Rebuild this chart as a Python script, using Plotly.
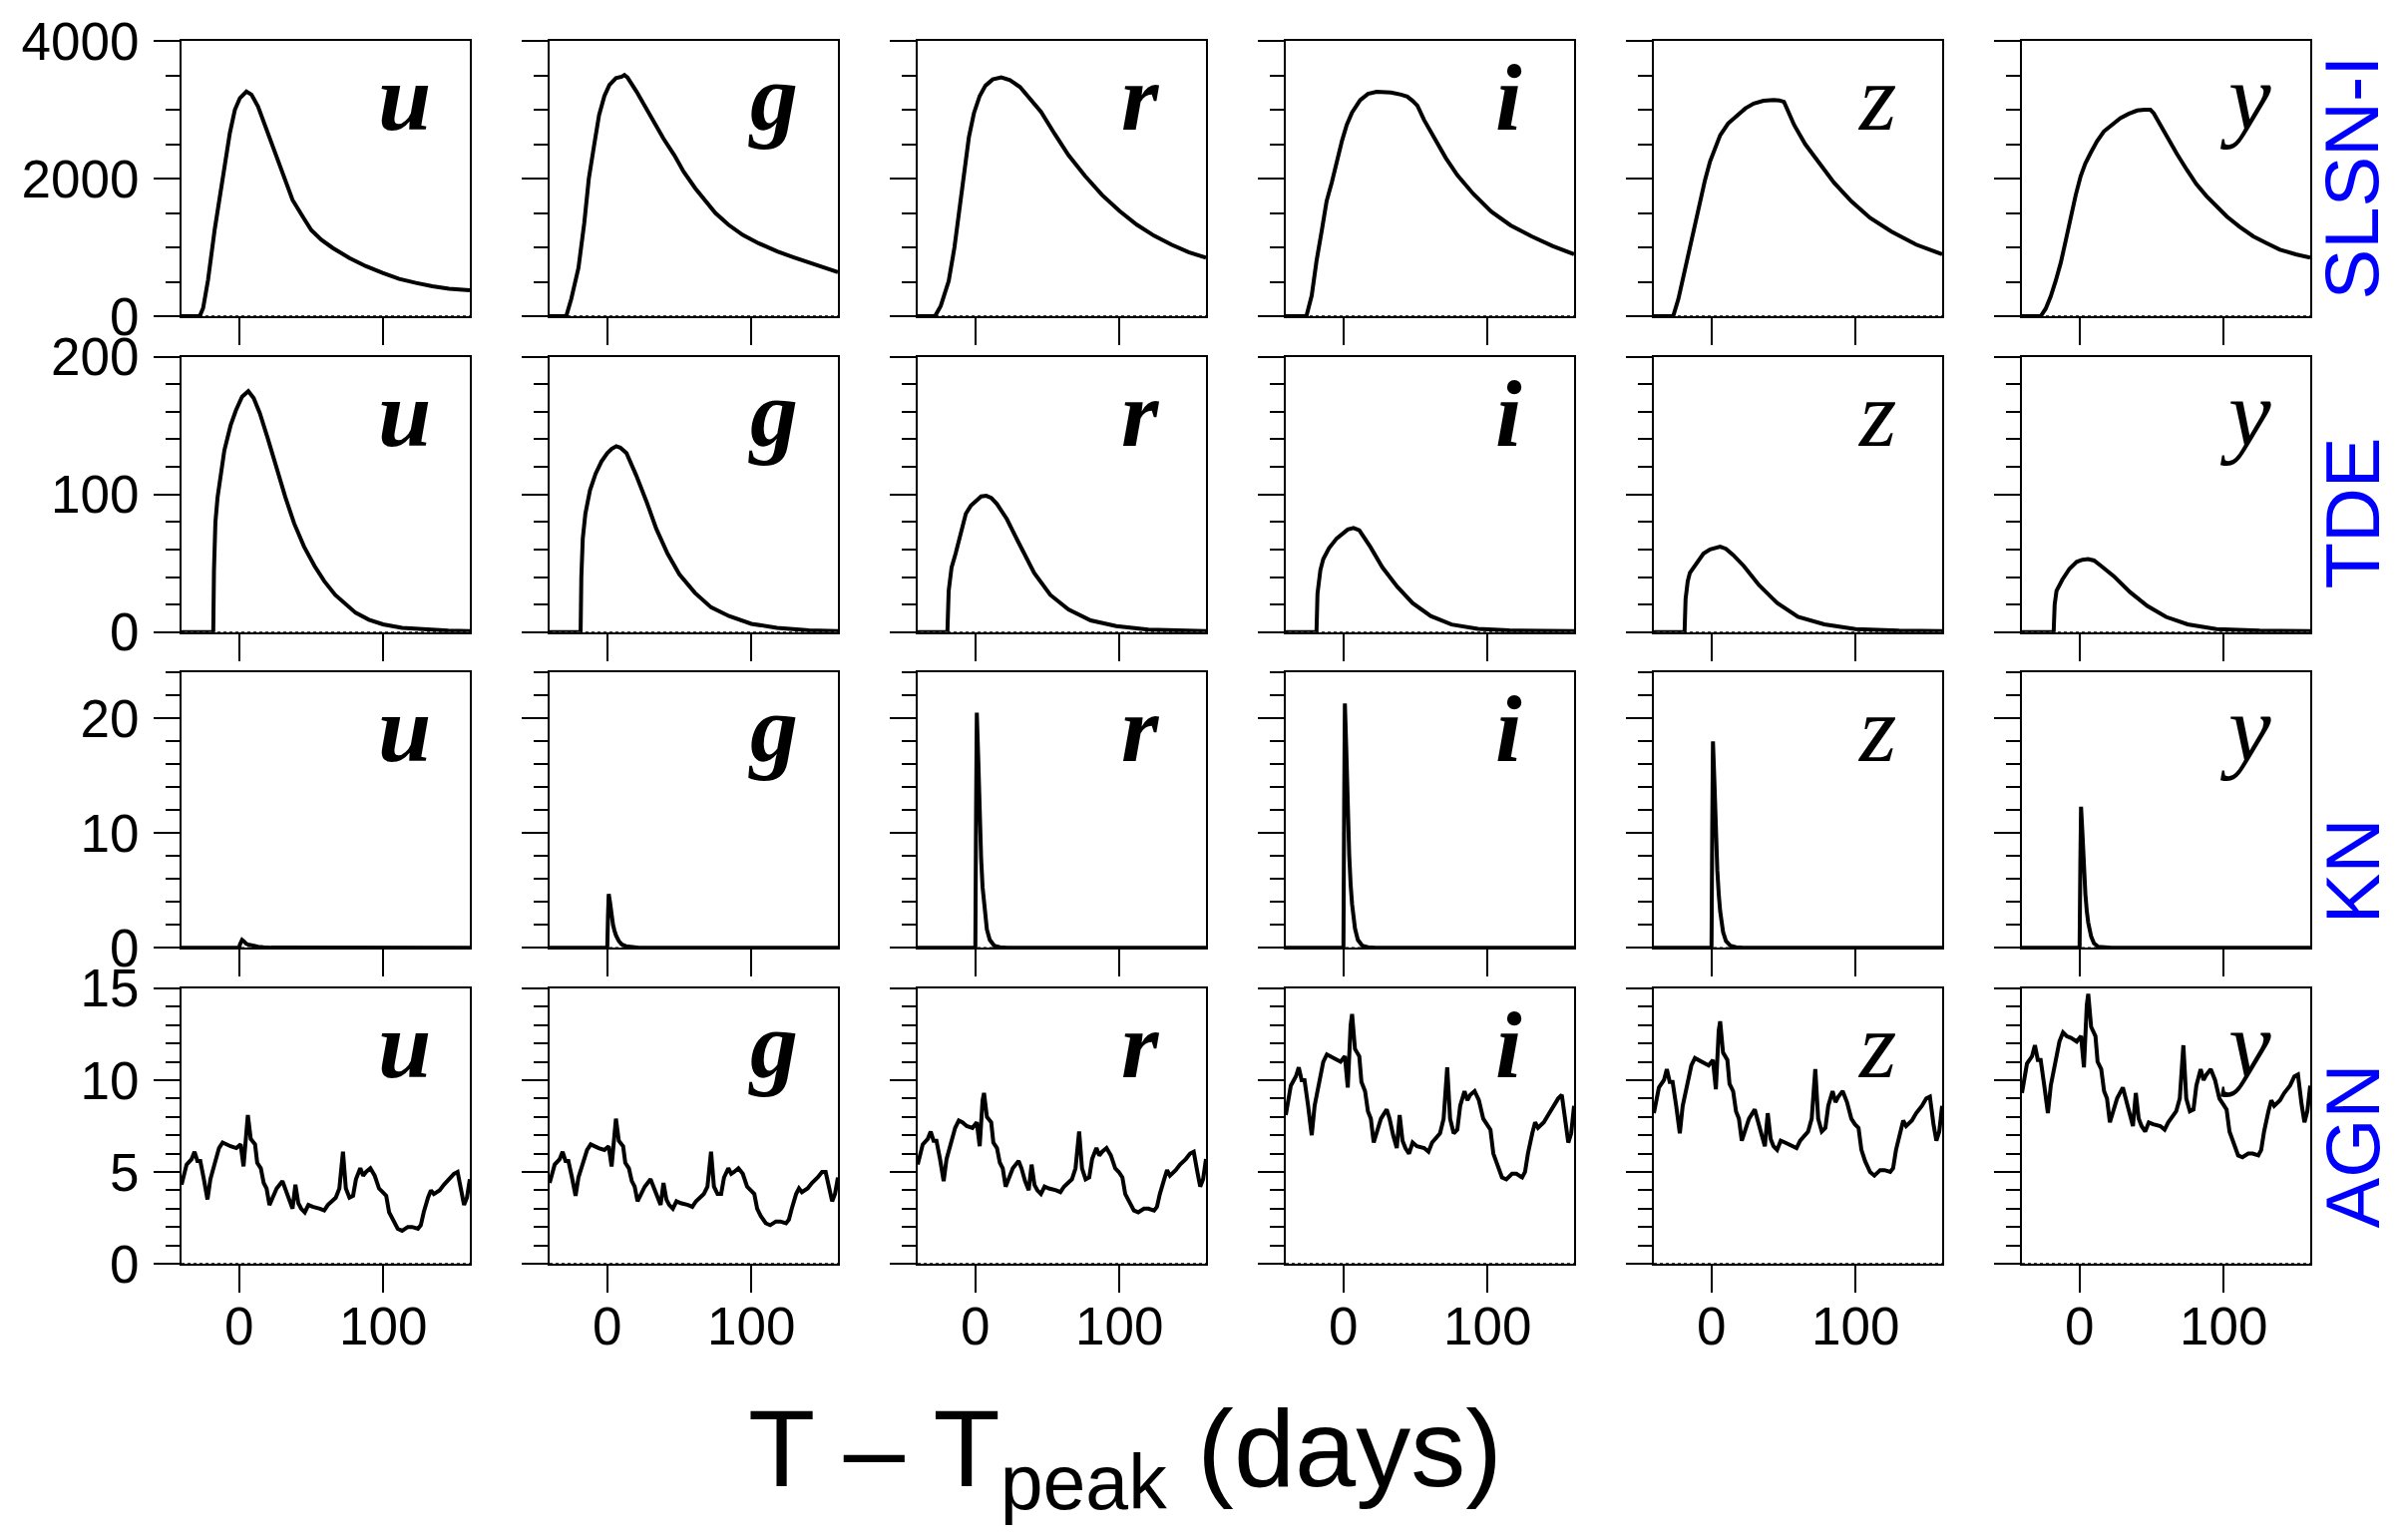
import plotly.graph_objects as go
from plotly.subplots import make_subplots

BANDS = ["u", "g", "r", "i", "z", "y"]
ROW_NAMES = ["SLSN-I", "TDE", "KN", "AGN"]

# ---- SLSN-I light curves (days, flux) ----
SLSN_T = {
    "u": [-40, -27.4, -25, -21.6, -17, -11.5, -6.5, -3, 0.5, 5, 8.5, 13, 19, 24.7, 30.4, 37, 44, 50,
          57, 65, 76.5, 88, 99.5, 111, 122.6, 134, 145.6, 160],
    "g": [-40, -28.5, -25, -20, -16, -12.8, -9, -5.7, -2, 1.5, 6, 10, 11.9, 14, 20.4, 26, 32, 39, 46.5,
          53, 61, 68, 75, 84, 94, 105, 118, 130, 141.5, 150, 160],
    "r": [-40, -28, -24, -18.5, -14.5, -11.4, -8, -4.5, -1, 3, 7, 12, 18, 24, 31, 38, 45.6, 55, 64.6,
          76, 88, 100, 112, 124, 136, 148, 160],
    "i": [-40, -25.7, -22, -18.7, -15, -11.7, -8, -4.7, -1, 2.3, 6, 11.6, 17, 23, 33, 40, 44.3, 48,
          51.3, 56, 63, 71, 79, 90, 102.6, 116, 130.6, 145, 160],
    "z": [-40, -26.6, -23, -17.3, -12.5, -8, -4.5, -1, 2.5, 6, 11.5, 17.7, 23.5, 29.3, 36, 43.3, 47,
          50.3, 53.5, 57.3, 65, 73.6, 85, 97, 110, 124.9, 142, 160],
    "y": [-40, -27, -23.5, -20, -16.5, -13.1, -9.6, -6.2, -2.7, 0.7, 4, 7.6, 12, 16.8, 22.5, 28.3, 34,
          39.9, 45, 49.1, 51.4, 56, 60.6, 67.5, 74.4, 81, 88.2, 95, 102.1, 111, 120.5, 130, 139, 150, 160],
}
SLSN_F = {
    "u": [0, 0, 120, 530, 1260, 2000, 2660, 3000, 3170, 3265, 3220, 3050, 2710, 2370, 2030, 1690, 1450,
          1250, 1110, 990, 846, 726, 629, 542, 484, 435, 401, 377],
    "g": [0, 0, 250, 700, 1350, 2000, 2500, 2920, 3200, 3360, 3460, 3480, 3505, 3470, 3260, 3050, 2830,
          2580, 2340, 2100, 1860, 1670, 1500, 1330, 1180, 1060, 940, 850, 770, 710, 640],
    "r": [0, 0, 150, 510, 1000, 1520, 2100, 2600, 2950, 3200, 3350, 3440, 3470, 3430, 3330, 3160, 2970,
          2650, 2340, 2040, 1760, 1530, 1330, 1170, 1040, 930, 850],
    "i": [0, 0, 300, 800, 1250, 1670, 1950, 2250, 2550, 2780, 2960, 3140, 3230, 3260, 3250, 3220, 3190,
          3130, 3060, 2850, 2580, 2300, 2050, 1780, 1520, 1320, 1160, 1020, 900],
    "z": [0, 0, 250, 800, 1250, 1670, 1980, 2250, 2460, 2630, 2800, 2920, 3020, 3090, 3130, 3140, 3135,
          3115, 2960, 2780, 2500, 2250, 1940, 1670, 1430, 1230, 1040, 900],
    "y": [0, 0, 110, 290, 520, 774, 1100, 1451, 1760, 2032, 2220, 2370, 2540, 2685, 2790, 2878, 2940,
          2989, 3000, 3000, 2951, 2780, 2612, 2360, 2128, 1920, 1741, 1590, 1451, 1300, 1161, 1060, 967,
          900, 850],
}

# ---- TDE light curves ----
TDE_T = {
    "u": [-40, -18, -17.5, -16.5, -15, -14, -12, -10.3, -6, -2.3, 2, 6.3, 10, 14.3, 20, 26.2, 32, 38.1,
          45, 52.3, 59, 66.6, 74, 80.8, 90, 99.8, 113, 128, 145, 160],
    "g": [-40, -18.5, -18, -17, -15.2, -12, -8.1, -4, 0, 3, 6.2, 9, 13.3, 20, 27.5, 34, 41.8, 50, 60.8,
          72, 84.5, 100, 117.7, 140, 160],
    "r": [-40, -19.4, -18.5, -16.5, -13.7, -10, -6.6, -3, 1, 4, 7.6, 11, 15, 21.9, 30, 40.8, 52, 64.6,
          80, 97.8, 120, 140, 160],
    "i": [-40, -18.7, -18, -16, -14, -10, -4.7, 0, 3, 7, 11, 18.6, 27, 37.3, 48, 60.6, 75, 93.3, 115,
          140, 160],
    "z": [-40, -18.7, -18, -16.5, -15, -10, -5.6, -1, 3, 6, 10, 15, 22.4, 33, 45.7, 60, 78.3, 100, 130,
          160],
    "y": [-40, -18, -17.3, -16, -12, -7, -2, 2, 6, 10, 15, 23.7, 35, 47, 60, 75, 95, 125, 160],
}
TDE_F = {
    "u": [0, 0, 45, 80, 98, 106, 122, 132, 150, 161, 171, 175, 170, 159, 140, 118, 98, 79, 62, 48, 37,
          27, 20, 14, 9, 5.6, 3, 1.9, 1.1, 0.7],
    "g": [0, 0, 40, 68, 86, 103, 115, 124, 130, 133, 135, 134, 130, 114, 94, 75, 57, 42, 28.5, 18, 11.6,
          6, 3.1, 1.3, 0.7],
    "r": [0, 0, 30, 47, 57, 73, 86, 92, 96, 98.5, 99, 97.5, 93, 82, 65, 43, 27, 16.4, 8.5, 4.3, 1.8,
          1.0, 0.7],
    "i": [0, 0, 28, 45, 53, 61, 68, 72, 74.5, 75.6, 74, 62, 47, 33, 21, 11.6, 5.5, 2.4, 1.2, 0.8, 0.7],
    "z": [0, 0, 24, 37, 43, 51, 57, 60, 61.5, 62, 60.5, 56, 48, 34, 21, 11, 5.6, 2.2, 1.0, 0.7],
    "y": [0, 0, 20, 30, 38, 46, 51, 52.5, 53, 52, 48, 40.6, 29, 19, 11, 5.6, 2.2, 1.0, 0.7],
}

# ---- KN light curves ----
KN_T = [-40, -0.5, 0, 0.5, 1, 2, 3, 4, 5, 6, 8, 10, 13, 17, 22, 160]
KN_F = {
    "u": [0, 0, 0, 0.3, 0.5, 0.7, 0.6, 0.45, 0.35, 0.3, 0.22, 0.15, 0.1, 0.05, 0.02, 0],
    "g": [0, 0, 0, 2.8, 4.7, 3.9, 2.8, 2.0, 1.5, 1.1, 0.6, 0.3, 0.15, 0.05, 0, 0],
    "r": [0, 0, 0, 12, 20.5, 16.5, 11.3, 7.8, 5.3, 3.7, 1.6, 0.7, 0.2, 0.05, 0, 0],
    "i": [0, 0, 0, 12.5, 21.3, 17.2, 11.8, 8.1, 5.5, 3.8, 1.7, 0.7, 0.2, 0.05, 0, 0],
    "z": [0, 0, 0, 10.5, 18.0, 14.5, 9.9, 6.8, 4.7, 3.2, 1.4, 0.6, 0.2, 0.05, 0, 0],
    "y": [0, 0, 0, 7.2, 12.3, 9.9, 6.8, 4.7, 3.2, 2.2, 1.0, 0.4, 0.1, 0.03, 0, 0],
}

# ---- AGN light curves ----
AGN_T = [-40, -36.5, -33, -31, -29, -27, -24.5, -22, -20, -17, -14, -11.5, -9, -6, -2, 1, 3, 5, 6, 8,
         11, 12.5, 15, 17, 19, 21, 23.5, 26, 30, 32, 34.5, 37, 39, 41, 43, 45.5, 48, 51, 56, 59,
         61.5, 64.5, 67, 69.5, 72, 74, 76.5, 79, 81, 84, 86, 88, 91, 94, 97, 99.5, 102, 104, 106.5, 110,
         113, 117, 120, 124, 126, 128, 131, 133, 135, 139, 142, 146, 149, 151.5, 154, 156, 158, 160]
AGN_F = {
    "u": [4.3, 5.4, 5.7, 6.1, 5.6, 5.6, 4.6, 3.5, 4.6, 5.5, 6.3, 6.6, 6.5, 6.4, 6.3, 6.5, 5.3, 7.7, 8.1, 6.8,
          6.5, 5.5, 5.2, 4.4, 4.1, 3.2, 3.7, 4.1, 4.5, 4.1, 3.5, 3.0, 4.3, 3.3, 3.0, 2.8, 3.2, 3.1, 3.0, 2.9,
          3.2, 3.4, 3.6, 4.1, 6.1, 4.1, 3.6, 3.7, 4.6, 5.2, 4.8, 5.0, 5.2, 4.8, 4.1, 3.9, 3.7, 2.8, 2.4, 1.9,
          1.8, 2.0, 2.0, 1.9, 2.1, 2.8, 3.6, 4.0, 3.8, 4.0, 4.3, 4.6, 4.9, 5.0, 3.9, 3.2, 3.6, 4.6],
    "g": [4.4, 5.4, 5.7, 6.1, 5.6, 5.6, 4.7, 3.7, 4.7, 5.5, 6.2, 6.5, 6.4, 6.3, 6.2, 6.4, 5.3, 7.5, 7.9, 6.7,
          6.4, 5.5, 5.2, 4.5, 4.2, 3.4, 3.8, 4.2, 4.6, 4.2, 3.7, 3.2, 4.4, 3.5, 3.2, 3.0, 3.4, 3.3, 3.2, 3.1,
          3.4, 3.6, 3.8, 4.2, 6.1, 4.2, 3.8, 3.8, 4.7, 5.2, 4.9, 5.0, 5.2, 4.9, 4.2, 4.0, 3.8, 3.0, 2.6, 2.2,
          2.1, 2.3, 2.3, 2.2, 2.4, 3.0, 3.8, 4.1, 3.9, 4.1, 4.4, 4.7, 5.0, 5.0, 4.0, 3.4, 3.8, 4.7],
    "r": [5.4, 6.5, 6.8, 7.2, 6.7, 6.7, 5.7, 4.5, 5.7, 6.6, 7.4, 7.8, 7.7, 7.5, 7.4, 7.7, 6.4, 8.9, 9.3, 8.0,
          7.7, 6.6, 6.3, 5.5, 5.2, 4.2, 4.7, 5.2, 5.6, 5.2, 4.5, 4.0, 5.4, 4.3, 4.0, 3.8, 4.2, 4.1, 4.0, 3.9,
          4.2, 4.4, 4.6, 5.2, 7.2, 5.2, 4.6, 4.7, 5.7, 6.3, 5.9, 6.1, 6.3, 5.9, 5.2, 5.0, 4.7, 3.8, 3.4, 2.9,
          2.8, 3.0, 3.0, 2.9, 3.1, 3.8, 4.6, 5.1, 4.8, 5.1, 5.4, 5.7, 6.0, 6.1, 5.0, 4.2, 4.6, 5.7],
    "i": [8.1, 9.7, 10.2, 10.7, 10.0, 10.0, 8.6, 7.0, 8.6, 9.9, 11.0, 11.4, 11.3, 11.2, 11.0, 11.3, 9.6,
          13.0, 13.6, 11.7, 11.3, 9.9, 9.4, 8.3, 7.9, 6.6, 7.3, 7.9, 8.4, 7.9, 7.0, 6.3, 8.1, 6.7, 6.3, 6.0,
          6.6, 6.4, 6.3, 6.1, 6.6, 6.9, 7.1, 7.9, 10.7, 7.9, 7.1, 7.3, 8.6, 9.4, 8.9, 9.2, 9.4, 8.9, 7.9,
          7.6, 7.3, 6.0, 5.4, 4.7, 4.6, 4.9, 4.9, 4.7, 5.0, 6.0, 7.1, 7.7, 7.4, 7.7, 8.1, 8.6, 9.0, 9.2, 7.6,
          6.6, 7.1, 8.6],
    "z": [8.2, 9.6, 10.0, 10.6, 9.9, 9.9, 8.6, 7.1, 8.6, 9.8, 10.8, 11.2, 11.1, 11.0, 10.8, 11.1, 9.5,
          12.7, 13.2, 11.5, 11.1, 9.8, 9.4, 8.3, 7.9, 6.7, 7.4, 7.9, 8.4, 7.9, 7.1, 6.4, 8.2, 6.8, 6.4, 6.2,
          6.7, 6.6, 6.4, 6.3, 6.7, 7.0, 7.2, 7.9, 10.6, 7.9, 7.2, 7.4, 8.6, 9.4, 8.8, 9.1, 9.4, 8.8, 7.9,
          7.6, 7.4, 6.2, 5.6, 5.0, 4.8, 5.1, 5.1, 5.0, 5.2, 6.2, 7.2, 7.8, 7.5, 7.8, 8.2, 8.6, 9.0, 9.1, 7.6,
          6.7, 7.2, 8.6],
    "y": [9.3, 10.9, 11.3, 11.9, 11.1, 11.1, 9.7, 8.2, 9.7, 11.0, 12.1, 12.6, 12.4, 12.3, 12.1, 12.4, 10.7,
          14.1, 14.7, 12.9, 12.4, 11.0, 10.6, 9.4, 9.0, 7.7, 8.4, 9.0, 9.6, 9.0, 8.2, 7.5, 9.3, 7.9, 7.5, 7.2,
          7.7, 7.6, 7.5, 7.3, 7.7, 8.0, 8.3, 9.0, 11.9, 9.0, 8.3, 8.4, 9.7, 10.6, 10.0, 10.3, 10.6, 10.0, 9.0,
          8.7, 8.4, 7.2, 6.6, 5.9, 5.8, 6.0, 6.0, 5.9, 6.2, 7.2, 8.3, 8.9, 8.6, 8.9, 9.3, 9.7, 10.2, 10.3,
          8.7, 7.7, 8.3, 9.7],
}

Y_RANGES = [[0, 4000], [0, 200], [0, 24], [0, 15]]
Y_MAJOR = [2000, 100, 10, 5]
Y_MINOR = [500, 20, 2, 1]
X_TICKS = [0, 100]

W, H = 2402, 1544
M_L, M_R, M_T, M_B = 182, 86, 37, 277
PW, PH = W - M_L - M_R, H - M_T - M_B
SANS = "Liberation Sans, Arial, sans-serif"
SERIF = "Liberation Serif, Times New Roman, serif"


def px_x(sx):
    return (sx - M_L) / PW


def px_y(sy):
    return 1 - (sy - M_T) / PH


fig = make_subplots(rows=4, cols=6, horizontal_spacing=80 / PW, vertical_spacing=40.7 / PH)

rows_data = [(SLSN_T, SLSN_F), (TDE_T, TDE_F),
             ({b: KN_T for b in BANDS}, KN_F), ({b: AGN_T for b in BANDS}, AGN_F)]

for r, (tdict, fdict) in enumerate(rows_data, start=1):
    for c, band in enumerate(BANDS, start=1):
        fig.add_trace(go.Scatter(x=tdict[band], y=fdict[band], mode="lines",
                                 line=dict(color="black", width=4),
                                 showlegend=False, hoverinfo="skip"),
                      row=r, col=c)
        fig.add_hline(y=0, line=dict(color="black", width=1.5, dash="dot"), row=r, col=c)

        k = (r - 1) * 6 + c
        suffix = "" if k == 1 else str(k)
        bold = band in ("u", "g", "r", "i")
        txt = f"<b><i>{band}</i></b>" if bold else f"<i>{band}</i>"
        fig.add_annotation(text=txt, xref=f"x{suffix} domain", yref=f"y{suffix} domain",
                           x=0.775, y=0.795, xanchor="center", yanchor="middle",
                           showarrow=False, font=dict(family=SERIF, size=96, color="black"))

        fig.update_xaxes(row=r, col=c, range=[-40, 160], tickvals=X_TICKS,
                         ticks="outside", ticklen=27, tickwidth=2, tickcolor="black",
                         showline=True, mirror=True, linewidth=2, linecolor="black",
                         showgrid=False, zeroline=False, showticklabels=(r == 4),
                         tickfont=dict(family=SANS, size=53, color="black"),
                         ticklabelstandoff=-12)
        fig.update_yaxes(row=r, col=c, range=Y_RANGES[r - 1], dtick=Y_MAJOR[r - 1], tick0=0,
                         tickformat="d", ticks="outside", ticklen=26, tickwidth=2, tickcolor="black",
                         minor=dict(dtick=Y_MINOR[r - 1], tick0=0, ticks="outside", ticklen=14,
                                    tickwidth=2, tickcolor="black", showgrid=False),
                         showline=True, mirror=True, linewidth=2, linecolor="black",
                         showgrid=False, zeroline=False, showticklabels=(c == 1),
                         tickfont=dict(family=SANS, size=53, color="black"),
                         ticklabelstandoff=4)

# object-class labels on the right (screen pixel centres)
ROW_LABEL_Y = [175, 512, 872, 1149]
for name, sy in zip(ROW_NAMES, ROW_LABEL_Y):
    fig.add_annotation(text=name, xref="paper", yref="paper", x=px_x(2358), y=px_y(sy),
                       xanchor="center", yanchor="middle", textangle=-90, showarrow=False,
                       font=dict(family=SANS, size=76, color="#0000ff"))

# shared x-axis title
fig.add_annotation(text="T \u2013 T<sub>peak</sub> (days)", xref="paper", yref="paper",
                   x=px_x(1128), y=px_y(1460), xanchor="center", yanchor="middle",
                   showarrow=False, font=dict(family=SANS, size=110, color="black"))

fig.update_layout(width=W, height=H, margin=dict(l=M_L, r=M_R, t=M_T, b=M_B, pad=0),
                  paper_bgcolor="white", plot_bgcolor="white")

# drop the default page margin so the figure sits at the window corner
fig.write_html("out.html", config={"displayModeBar": False},
               post_script="document.body.style.margin='0px';")
